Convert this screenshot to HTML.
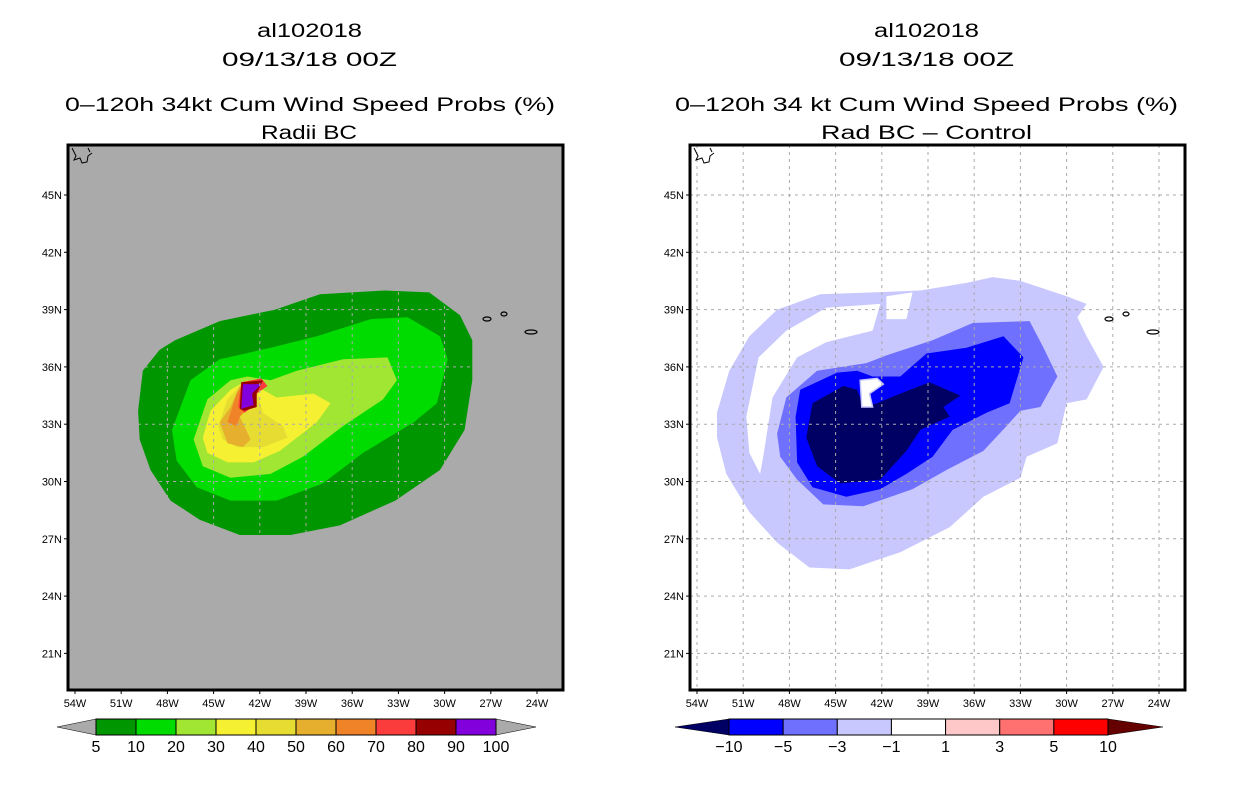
<!DOCTYPE html>
<html><head><meta charset="utf-8"><style>
html,body{margin:0;padding:0;background:#fff;}
svg{display:block;font-family:"Liberation Sans",sans-serif;}
</style></head><body>
<svg id="chart" width="1236" height="800" viewBox="0 0 1236 800" xmlns="http://www.w3.org/2000/svg">
<g font-size="19" fill="#000" text-anchor="start">
<text x="257" y="37" textLength="105" lengthAdjust="spacingAndGlyphs">al102018</text>
<text x="222" y="66" textLength="175" lengthAdjust="spacingAndGlyphs">09/13/18 00Z</text>
<text x="65" y="111" textLength="490" lengthAdjust="spacingAndGlyphs">0–120h 34kt Cum Wind Speed Probs (%)</text>
<text x="261" y="139" textLength="96" lengthAdjust="spacingAndGlyphs">Radii BC</text>
</g>
<g font-size="19" fill="#000">
<text x="874" y="37" textLength="105" lengthAdjust="spacingAndGlyphs">al102018</text>
<text x="839" y="66" textLength="175" lengthAdjust="spacingAndGlyphs">09/13/18 00Z</text>
<text x="675" y="111" textLength="503" lengthAdjust="spacingAndGlyphs">0–120h 34 kt Cum Wind Speed Probs (%)</text>
<text x="821" y="139" textLength="211" lengthAdjust="spacingAndGlyphs">Rad BC – Control</text>
</g>
<g id="left"></g>
<g id="right"></g>
</svg>
<script>
// axis data
const lonTicks = [54,51,48,45,42,39,36,33,30,27,24];
const latTicks = [45,42,39,36,33,30,27,24,21];
// left contour levels and colors
const leftLevels = ["5","10","20","30","40","50","60","70","80","90","100"];
const leftColors = ["#009600","#00dc00","#a0e632","#f5f032","#e6dc32","#e6af2d","#f08228","#fa3c3c","#960000","#8200dc"];
const rightLevels = ["-10","-5","-3","-1","1","3","5","10"];
const rightColors = ["#0000ff","#7070ff","#c8c8ff","#ffffff","#ffc8c8","#ff7070","#ff0000"];
// contours [lonW, lat]
const c5 = [[49.9,33.7],[49.6,35.8],[48.5,36.9],[47.5,37.4],[44.6,38.4],[41.0,39.0],[38.1,39.8],[33.9,40.0],[31.0,39.9],[29.0,38.7],[28.2,37.4],[28.2,35.3],[28.7,32.7],[30.3,30.6],[33.2,29.0],[36.8,27.7],[40.0,27.2],[43.3,27.2],[45.9,28.0],[47.8,29.0],[49.1,30.6],[49.8,32.2]];
const c10 = [[47.7,32.7],[46.5,35.3],[44.6,36.4],[41.3,37.0],[38.3,37.6],[34.8,38.5],[32.4,38.6],[30.3,37.6],[29.8,36.4],[30.5,34.1],[32.0,33.1],[35.3,31.5],[37.9,29.9],[40.9,29.0],[43.9,29.0],[46.1,29.7],[47.4,31.1]];
const c20 = [[46.3,32.2],[45.4,34.3],[43.9,35.3],[42.8,35.5],[41.3,35.3],[39.6,35.8],[36.6,36.4],[33.7,36.5],[33.1,35.3],[34.0,34.3],[36.6,32.9],[39.2,31.3],[41.3,30.4],[43.9,30.2],[45.7,30.8]];
const c30 = [[45.7,32.3],[45.2,33.7],[43.9,34.8],[42.8,35.3],[41.8,34.8],[40.9,34.4],[38.5,34.6],[37.4,34.1],[38.3,33.1],[40.7,31.6],[42.4,31.0],[44.1,31.0],[45.4,31.5]];
const c40 = [[44.7,32.9],[44.1,34.3],[43.1,35.2],[42.2,34.8],[41.8,33.6],[40.5,32.9],[40.2,32.3],[41.8,31.8],[43.5,31.8],[44.4,32.2]];
const c50 = [[44.6,33.1],[43.9,33.9],[43.3,35.0],[42.8,33.9],[43.3,33.4],[42.6,32.2],[43.1,31.8],[44.1,32.0]];
const c60 = [[44.1,33.1],[43.5,34.6],[43.0,35.2],[42.8,33.8],[43.3,33.4],[43.5,32.9]];
const c70 = [[43.4,33.9],[43.2,35.2],[41.9,35.4],[41.5,35.0],[42.2,34.6],[42.3,34.0],[43.0,33.6]];
const c80 = [[43.3,33.8],[43.2,35.2],[41.8,35.3],[42.2,34.6],[42.2,33.9],[43.0,33.7]];
const c90 = [[43.2,33.8],[43.1,35.1],[41.9,35.1],[42.5,34.6],[42.4,34.0]];
const rM1 = [[52.7,33.6],[51.9,35.8],[50.6,37.6],[48.8,39.0],[46.0,39.8],[42.6,39.9],[39.5,40.0],[36.5,40.4],[34.8,40.7],[33.0,40.5],[30.0,39.7],[28.7,39.3],[29.3,38.6],[28.7,37.6],[27.6,36.0],[28.7,34.3],[30.0,34.1],[30.6,32.0],[32.6,31.3],[33.0,30.2],[35.4,29.2],[37.6,27.6],[40.8,26.3],[44.1,25.4],[46.7,25.5],[48.8,26.8],[50.6,28.4],[52.1,30.4],[52.7,32.3]];
const rHole1 = [[50.8,33.4],[50.0,36.5],[48.2,37.9],[45.6,39.1],[42.1,39.3],[42.6,37.9],[45.6,37.3],[47.5,36.5],[49.1,34.4],[49.7,31.3],[49.9,30.4],[50.6,31.5]];
const rHole2 = [[41.7,39.7],[40.0,39.9],[40.4,38.5],[41.7,38.5]];
const rM3 = [[48.8,32.5],[48.2,34.4],[46.2,35.8],[43.0,36.2],[41.7,36.6],[38.7,37.4],[36.1,38.3],[32.4,38.4],[31.5,37.0],[30.6,35.5],[31.7,33.9],[33.0,33.7],[33.9,32.9],[35.4,31.6],[37.8,30.6],[40.0,29.6],[43.2,28.7],[45.8,28.8],[47.5,30.1],[48.6,31.3]];
const rM5 = [[47.6,33.4],[47.3,34.8],[44.9,35.7],[43.6,35.8],[42.6,35.5],[40.8,35.5],[39.1,36.7],[36.5,37.0],[34.1,37.6],[32.8,36.5],[33.7,34.1],[35.2,33.6],[37.4,32.7],[38.7,31.3],[40.4,30.4],[42.1,29.6],[44.3,29.2],[46.5,29.7],[47.5,31.0]];
const rM10 = [[46.9,32.3],[46.5,34.1],[44.5,35.0],[43.6,34.8],[43.2,33.9],[42.3,34.1],[40.8,34.6],[38.9,35.2],[36.9,34.5],[38.0,33.9],[37.6,33.4],[39.5,32.7],[40.4,31.6],[42.1,30.1],[44.7,29.9],[46.2,30.8]];
const rSpot = [[43.4,35.3],[42.3,35.4],[41.9,35.1],[42.8,34.6],[42.6,33.9],[43.3,33.9]];

const NS='http://www.w3.org/2000/svg';
function mk(tag, attrs, parent){const e=document.createElementNS(NS,tag);for(const k in attrs)e.setAttribute(k,attrs[k]);parent.appendChild(e);return e;}
function xS(lonW,off){return 75+(54-lonW)*15.4+off;}
function yS(lat){return 195+(45-lat)*19.1;}
function pts(arr,off){return arr.map(p=>xS(p[0],off).toFixed(1)+','+yS(p[1]).toFixed(1)).join(' ');}

function panel(g, off, bg){
  const L=68+off, R=563+off, T=145, B=690;
  const bgR=mk('rect',{x:L,y:T,width:R-L,height:B-T,fill:bg},g);
  
  
  return {L,R,T,B};
}
function poly(g,arr,off,fill,name,stroke){
  const p=mk('polygon',{points:pts(arr,off),fill:fill},g);
  if(stroke){p.setAttribute('stroke',stroke);p.setAttribute('stroke-width','1.5');}
  
  
}
function finish(g,off,f){
  const grid=mk('g',{stroke:'#aaaaaa','stroke-width':1,'stroke-dasharray':'3,4'},g);
  
  
  lonTicks.forEach(l=>{const x=xS(l,off);if(x>f.L+2&&x<f.R-2)mk('line',{x1:x,y1:f.T,x2:x,y2:f.B},grid);});
  latTicks.forEach(l=>{const y=yS(l);mk('line',{x1:f.L,y1:y,x2:f.R,y2:y},grid);});
  // islands
  const isl=mk('g',{fill:'none',stroke:'#000','stroke-width':1.2},g);
  
  
  mk('ellipse',{cx:487+off,cy:319,rx:4,ry:2},isl);
  mk('ellipse',{cx:504+off,cy:314,rx:3,ry:2},isl);
  mk('ellipse',{cx:531+off,cy:332,rx:6,ry:2},isl);
  const cst=mk('path',{d:`M${f.L+4} ${f.T+3} l4 8 l-2 4 l6 -2 l2 5 l5 -1 l1 -6 l4 -3 M${f.L+20} ${f.T+3} l2 4`,fill:'none',stroke:'#000','stroke-width':1},g);
  
  
  const fr=mk('rect',{x:f.L,y:f.T,width:f.R-f.L,height:f.B-f.T,fill:'none',stroke:'#000','stroke-width':3},g);
  
  
  lonTicks.forEach(l=>{const x=xS(l,off);
    mk('line',{x1:x,y1:f.B,x2:x,y2:f.B+4,stroke:'#000'},g);
    const t=mk('text',{x:x,y:f.B+17,'font-size':11,'text-anchor':'middle'},g);t.textContent=l+'W';
    
    });
  latTicks.forEach(l=>{const y=yS(l);
    mk('line',{x1:f.L-4,y1:y,x2:f.L,y2:y,stroke:'#000'},g);
    const t=mk('text',{x:f.L-6,y:y+4,'font-size':11,'text-anchor':'end'},g);t.textContent=l+'N';
    
    });
}
function colorbar(g,x0,x1,tl,tr,colors,levels,leftTri,rightTri,labelX){
  const cb=mk('g',{},g);
  
  
  const y0=719,y1=735,ym=727,n=colors.length,w=(x1-x0)/n;
  mk('polygon',{points:`${tl},${ym} ${x0},${y0} ${x0},${y1}`,fill:leftTri,stroke:'#000','stroke-width':0.5},cb);
  mk('polygon',{points:`${tr},${ym} ${x1},${y0} ${x1},${y1}`,fill:rightTri,stroke:'#000','stroke-width':0.5},cb);
  colors.forEach((c,i)=>{const r=mk('rect',{x:x0+i*w,y:y0,width:w,height:y1-y0,fill:c,stroke:'#000','stroke-width':1},cb);
    
    });
  levels.forEach((lv,i)=>{const x=labelX?labelX(i,w):x0+i*w;
    const t=mk('text',{x:x,y:752,'font-size':16,'text-anchor':'middle'},cb);t.textContent=lv.replace('-','−');
    
    });
}
// left panel
const gl=document.getElementById('left');
const fL=panel(gl,0,'#aaaaaa');
[c5,c10,c20,c30,c40,c50,c60,c70,c80].forEach((c,i)=>poly(gl,c,0,leftColors[i],'contour-'+leftLevels[i]));
poly(gl,c90,0,leftColors[9],'contour-90');
finish(gl,0,fL);
colorbar(gl,96,496,57,536,leftColors,leftLevels,'#aaaaaa','#aaaaaa');
// right panel
const gr=document.getElementById('right');
const fR=panel(gr,622,'#ffffff');
poly(gr,rM1,622,'#c8c8ff','contour-minus1');
poly(gr,rHole1,622,'#ffffff','contour-hole-west');
poly(gr,rHole2,622,'#ffffff','contour-hole-north');
poly(gr,rM3,622,'#7070ff','contour-minus3');
poly(gr,rM5,622,'#0000ff','contour-minus5');
poly(gr,rM10,622,'#000064','contour-minus10');
poly(gr,rSpot,622,'#ffffff','contour-positive-spot','#c8c8ff');
finish(gr,622,fR);
colorbar(gr,729,1108,675,1163,rightColors,rightLevels,'#000064','#640000');
</script>
</body></html>
